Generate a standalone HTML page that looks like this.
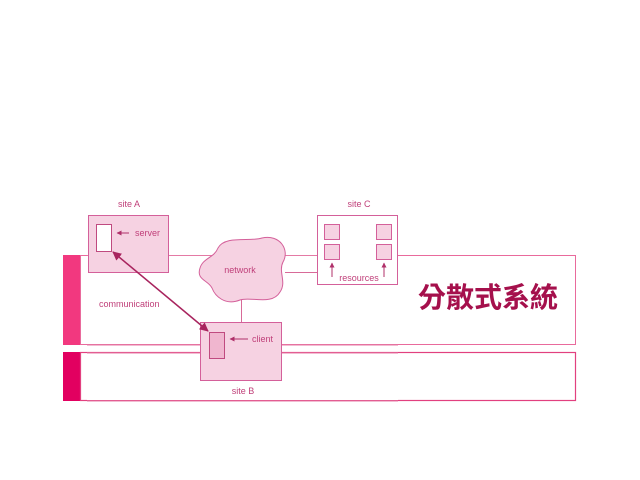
<!DOCTYPE html>
<html><head><meta charset="utf-8"><style>
html,body{margin:0;padding:0;background:#fff;width:640px;height:480px;overflow:hidden}
</style></head><body>
<svg width="640" height="480" viewBox="0 0 640 480" xmlns="http://www.w3.org/2000/svg" font-family="Liberation Sans, sans-serif">
<defs>
<marker id="a" viewBox="0 0 10 10" refX="9" refY="5" markerWidth="6" markerHeight="6" orient="auto-start-reverse"><path d="M0,0L10,5L0,10z" fill="#a8245e"/></marker>
<marker id="b" viewBox="0 0 10 10" refX="9" refY="5" markerWidth="5" markerHeight="5" orient="auto"><path d="M0,0L10,5L0,10z" fill="#b0306a"/></marker>
</defs>
<rect x="63" y="255" width="17" height="90" fill="#f2387f"/>
<rect x="63" y="352" width="17" height="49" fill="#e20060"/>
<rect x="80.5" y="255.5" width="495" height="89" fill="none" stroke="#e96a9c" stroke-width="1"/>
<rect x="80.5" y="352.5" width="495" height="48" fill="none" stroke="#e2407f" stroke-width="1.2"/>
<rect x="87" y="256" width="311" height="88" fill="#fff"/>
<rect x="87" y="353" width="311" height="47" fill="#fff"/>
<line x1="87" y1="255.5" x2="398" y2="255.5" stroke="#e47aa5"/>
<line x1="87" y1="345" x2="398" y2="345" stroke="#e47aa5"/>
<line x1="87" y1="353" x2="398" y2="353" stroke="#e47aa5"/>
<line x1="87" y1="401" x2="398" y2="401" stroke="#e47aa5"/>
<line x1="285" y1="272.5" x2="317" y2="272.5" stroke="#d86a98"/>
<line x1="241.5" y1="300" x2="241.5" y2="322" stroke="#d86a98"/>
<text x="129" y="207" font-size="9" fill="#c0407a" text-anchor="middle">site A</text>
<rect x="88.5" y="215.5" width="80" height="57" fill="#f6d2e2" stroke="#d4609a"/>
<rect x="96.5" y="224.5" width="15" height="27" fill="#fff" stroke="#c04a80"/>
<line x1="129" y1="233" x2="117" y2="233" stroke="#b0306a" marker-end="url(#b)"/>
<text x="135" y="236" font-size="9" fill="#c0407a">server</text>
<path d="M218,248 C225,235 250,242 262,238 C280,234 290,250 283,262 C278,272 287,282 280,292 C272,306 250,296 240,300 C225,306 215,296 212,288 C208,280 196,280 200,268 C203,258 214,258 218,248Z" fill="#f6d2e2" stroke="#d4609a"/>
<text x="240" y="273" font-size="9" fill="#c0407a" text-anchor="middle">network</text>
<text x="359" y="207" font-size="9" fill="#c0407a" text-anchor="middle">site C</text>
<rect x="317.5" y="215.5" width="80" height="69" fill="#fff" stroke="#d4609a"/>
<g fill="#f6d2e2" stroke="#d4609a">
<rect x="324.5" y="224.5" width="15" height="15"/><rect x="376.5" y="224.5" width="15" height="15"/>
<rect x="324.5" y="244.5" width="15" height="15"/><rect x="376.5" y="244.5" width="15" height="15"/>
</g>
<line x1="332" y1="277" x2="332" y2="263" stroke="#b0306a" marker-end="url(#b)"/>
<line x1="384" y1="277" x2="384" y2="263" stroke="#b0306a" marker-end="url(#b)"/>
<text x="359" y="281" font-size="9" fill="#c0407a" text-anchor="middle">resources</text>
<rect x="200.5" y="322.5" width="81" height="58" fill="#f6d2e2" stroke="#d4609a"/>
<rect x="209.5" y="332.5" width="15" height="26" fill="#f0b6cf" stroke="#c04a80"/>
<line x1="248" y1="339" x2="230" y2="339" stroke="#b0306a" marker-end="url(#b)"/>
<text x="252" y="342" font-size="9" fill="#c0407a">client</text>
<text x="243" y="394" font-size="9" fill="#c0407a" text-anchor="middle">site B</text>
<line x1="113" y1="252" x2="208" y2="331" stroke="#a8245e" stroke-width="1.5" marker-start="url(#a)" marker-end="url(#a)"/>
<text x="99" y="307" font-size="9" fill="#c0407a">communication</text>
<text x="488" y="307" font-size="28" font-weight="bold" fill="#a5104c" text-anchor="middle" font-family="Liberation Sans, Noto Sans CJK TC, sans-serif">分散式系統</text>
</svg>
</body></html>
